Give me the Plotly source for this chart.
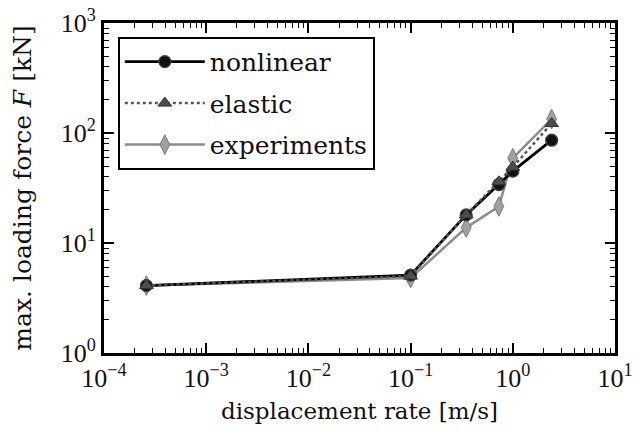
import numpy as np
import plotly.graph_objects as go

rate = [2.6e-4, 0.1, 0.35, 0.73, 1.0, 2.4]
nonlinear = [4.1, 5.1, 18.0, 34.0, 45.0, 86.0]
elastic = [4.1, 5.0, 18.0, 36.0, 49.0, 122.0]
experiments = [4.1, 4.8, 13.8, 21.5, 59.0, 134.0]

x_major = [1e-4, 1e-3, 1e-2, 1e-1, 1e0, 1e1]
x_major_text = ["10<sup>−4</sup>", "10<sup>−3</sup>", "10<sup>−2</sup>",
                "10<sup>−1</sup>", "10<sup>0</sup>", "10<sup>1</sup>"]
y_major = [1e0, 1e1, 1e2, 1e3]
y_major_text = ["10<sup>0</sup>", "10<sup>1</sup>", "10<sup>2</sup>", "10<sup>3</sup>"]

def minors(lo, hi):
    return [m * 10.0 ** k for k in range(lo, hi) for m in range(2, 10)]

FONT = "DejaVu Serif"
TICKFONT = "Liberation Serif"

fig = go.Figure()
fig.add_trace(go.Scatter(
    x=rate, y=experiments, name="experiments", mode="lines+markers",
    line=dict(color="#8c8c8c", width=2.5),
    marker=dict(symbol="diamond-tall", size=14, color="#a0a0a0",
                line=dict(color="#7a7a7a", width=1)),
    legendrank=3, legendgroup="c"))
fig.add_trace(go.Scatter(
    x=rate, y=nonlinear, name="nonlinear", mode="lines+markers",
    line=dict(color="black", width=2.8),
    marker=dict(symbol="circle", size=12, color="#111111",
                line=dict(color="#444444", width=1.2)),
    legendrank=1, legendgroup="a"))
fig.add_trace(go.Scatter(
    x=rate, y=elastic, name="elastic", mode="lines+markers",
    line=dict(color="#555555", width=2.5, dash="dot"),
    marker=dict(symbol="triangle-up", size=12, color="#4d4d4d",
                line=dict(color="#333333", width=1)),
    legendrank=2, legendgroup="b"))

axis_common = dict(
    showline=True, linecolor="black", linewidth=3, mirror="ticks",
    ticks="inside", ticklen=10, tickwidth=1.5, tickcolor="black",
    showgrid=False, zeroline=False, ticklabeloverflow="allow", automargin=False,
    tickfont=dict(family=TICKFONT, size=26, color="#111"),
)

fig.update_xaxes(type="log", range=[-4, 1], tickvals=x_major, ticktext=x_major_text,
                 minor=dict(tickvals=minors(-4, 1), ticks="inside", ticklen=5,
                            tickwidth=1.2, tickcolor="black", showgrid=False),
                 title=dict(text="displacement rate [m/s]",
                            font=dict(family=FONT, size=23, color="#111"), standoff=11),
                 **axis_common)
fig.update_yaxes(type="log", range=[0, 3], tickvals=y_major, ticktext=y_major_text,
                 minor=dict(tickvals=minors(0, 3), ticks="inside", ticklen=5,
                            tickwidth=1.2, tickcolor="black", showgrid=False),
                 title=dict(text="max. loading force <i>F</i> [kN]",
                            font=dict(family=FONT, size=25, color="#111"), standoff=22),
                 **axis_common)

fig.update_layout(
    width=633, height=430,
    margin=dict(l=104, r=18, t=23, b=77),
    plot_bgcolor="white", paper_bgcolor="white",
    legend=dict(x=0.027, y=0.958, xanchor="left", yanchor="top",
                bordercolor="black", borderwidth=2, bgcolor="white",
                font=dict(family=FONT, size=25, color="#111"),
                itemwidth=80, tracegroupgap=6),
)

fig.write_html("out.html")
